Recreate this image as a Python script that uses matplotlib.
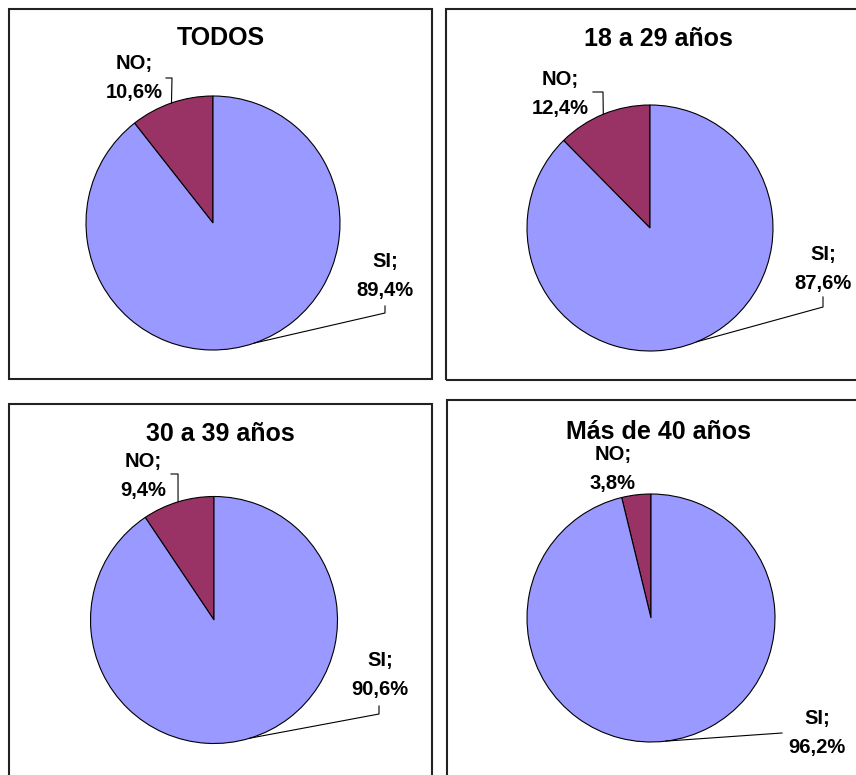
import numpy as np
import matplotlib; matplotlib.use("Agg")
import matplotlib.pyplot as plt
from matplotlib.patches import Rectangle

plt.rcParams.update({"font.family": ["Liberation Sans", "DejaVu Sans"], "font.weight": "bold"})

titles = ["TODOS", "18 a 29 años", "30 a 39 años", "Más de 40 años"]
cats = ["NO", "SI"]
no_pct = [10.6, 12.4, 9.4, 3.8]
si_pct = [89.4, 87.6, 90.6, 96.2]
colors = ["#993366", "#9999FF"]

W, H = 856, 775
# layout in image pixels (y down)
boxes = [(9, 9, 432, 379), (446, 9, 880, 380), (9, 404, 432, 800), (447, 400, 880, 800)]
centers = [(213, 223), (650, 228), (214, 620), (651, 618)]
radii = [127, 123, 123.5, 124]
title_pos = [(221, 38), (658, 39), (220, 434), (659, 432)]
no_txt = [(134, 78), (560, 94), (143, 476), (613, 469)]
si_txt = [(385, 276), (823, 269), (380, 675), (817, 733)]
no_elbow = [[(166, 78), (172, 78)], [(593, 92), (603, 92)], [(171, 474), (178, 474)], None]
si_elbow = [[(385, 306), (385, 313)], [(823, 297), (823, 307)], [(379, 706), (379, 714)], [(782, 733)]]

fig = plt.figure(figsize=(W / 100, H / 100), dpi=100)
ax = fig.add_axes([0, 0, 1, 1])
def py(y): return H - y

for i in range(4):
    x0, y0, x1, y1 = boxes[i]
    ax.add_patch(Rectangle((x0, py(y1)), x1 - x0, y1 - y0, fill=False,
                           lw=1.5, ec="#222222", clip_on=False))
    cx, cy = centers[i]; r = radii[i]
    vals = [no_pct[i], si_pct[i]]
    wedges, _ = ax.pie(vals, colors=colors, startangle=90, counterclock=True,
                       center=(cx, py(cy)), radius=r, frame=True,
                       wedgeprops=dict(edgecolor="black", linewidth=0.8))
    ax.text(title_pos[i][0], py(title_pos[i][1]), titles[i], ha="center",
            va="center", fontsize=18, fontweight="bold")
    for k, (txt, elbow) in enumerate([(no_txt[i], no_elbow[i]), (si_txt[i], si_elbow[i])]):
        val = vals[k]
        lab = f"{cats[k]};\n{val:.1f}%".replace(".", ",")
        ax.text(txt[0], py(txt[1]), lab, ha="center", va="center",
                fontsize=14.5, fontweight="bold", linespacing=1.65)
        if elbow:
            w = wedges[k]
            mid = np.deg2rad((w.theta1 + w.theta2) / 2)
            ex, ey = cx + r * np.cos(mid), py(cy) + r * np.sin(mid)
            xs = [p[0] for p in elbow] + [ex]
            ys = [py(p[1]) for p in elbow] + [ey]
            ax.plot(xs, ys, color="black", lw=0.8)

ax.set_xlim(0, W); ax.set_ylim(0, H); ax.set_aspect("equal")
ax.axis("off")
fig.savefig("out.png", dpi=100)
